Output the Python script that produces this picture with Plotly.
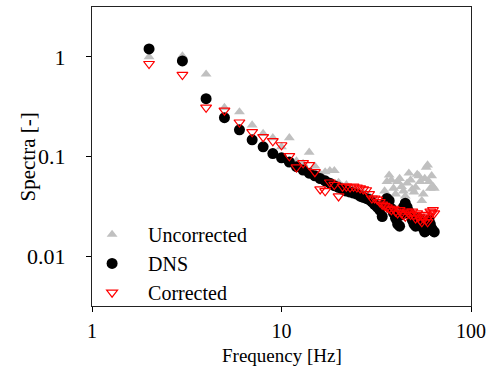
import plotly.graph_objects as go

freq = list(range(2, 65))

uncorrected = [1.0, 1.02, 0.67, 0.31, 0.28, 0.207, 0.17, 0.154, 0.125, 0.154,
               0.09, 0.085, 0.11, 0.08, 0.067, 0.07, 0.072, 0.072, 0.055, 0.05,
               0.052, 0.047, 0.046, 0.045, 0.043, 0.044, 0.042, 0.040, 0.038, 0.036,
               0.034, 0.030, 0.028, 0.045, 0.056, 0.065, 0.058, 0.048, 0.042, 0.056,
               0.060, 0.050, 0.045, 0.040, 0.054, 0.068, 0.058, 0.047, 0.044, 0.049,
               0.066, 0.064, 0.056, 0.036, 0.042, 0.060, 0.078, 0.082, 0.056, 0.048,
               0.064, 0.050, 0.048]

dns = [1.2, 0.91, 0.38, 0.245, 0.185, 0.147, 0.125, 0.107, 0.097, 0.088,
       0.079, 0.073, 0.068, 0.064, 0.060, 0.057, 0.054, 0.051, 0.049, 0.047,
       0.045, 0.044, 0.043, 0.042, 0.040, 0.039, 0.038, 0.037, 0.035, 0.033,
       0.031, 0.029, 0.025, 0.033, 0.038, 0.036, 0.030, 0.027, 0.024, 0.021,
       0.020, 0.026, 0.031, 0.034, 0.031, 0.028, 0.026, 0.023, 0.021, 0.020,
       0.022, 0.024, 0.022, 0.020, 0.019, 0.0175, 0.018, 0.021, 0.023, 0.021,
       0.019, 0.018, 0.0175]

corrected = [0.85, 0.66, 0.31, 0.29, 0.22, 0.176, 0.157, 0.143, 0.13, 0.101,
             0.078, 0.086, 0.082, 0.07, 0.047, 0.045, 0.055, 0.052, 0.040, 0.05,
             0.05, 0.049, 0.05, 0.049, 0.048, 0.047, 0.046, 0.042, 0.038, 0.038,
             0.037, 0.035, 0.033, 0.032, 0.031, 0.030, 0.029, 0.030, 0.028, 0.027,
             0.029, 0.027, 0.026, 0.025, 0.028, 0.027, 0.026, 0.028, 0.026, 0.024,
             0.027, 0.025, 0.023, 0.022, 0.024, 0.026, 0.023, 0.022, 0.025, 0.028,
             0.027, 0.029, 0.027]

x_ticks = [1, 10, 100]
x_tick_text = ["1", "10", "100"]
y_ticks = [0.01, 0.1, 1]
y_tick_text = ["0.01", "0.1", "1"]
x_title = "Frequency [Hz]"
y_title = "Spectra [-]"

FONT = "Liberation Serif, Times New Roman, serif"

fig = go.Figure()
fig.add_trace(go.Scatter(x=freq, y=uncorrected, mode="markers", name="Uncorrected",
                         marker=dict(symbol="triangle-up", size=9.5, color="#c0c0c0",
                                     line=dict(width=0))))
fig.add_trace(go.Scatter(x=freq, y=dns, mode="markers", name="DNS",
                         marker=dict(symbol="circle", size=11, color="black",
                                     line=dict(width=0))))
fig.add_trace(go.Scatter(x=freq, y=corrected, mode="markers", name="Corrected",
                         marker=dict(symbol="triangle-down-open", size=9.5, color="red",
                                     line=dict(width=1.2, color="red"))))

fig.update_layout(
    width=497, height=367,
    margin=dict(l=92, r=26, t=7, b=61, autoexpand=False),
    paper_bgcolor="white", plot_bgcolor="white",
    font=dict(family=FONT, size=20, color="black"),
    showlegend=True,
    legend=dict(x=-0.042, y=-0.02, xanchor="left", yanchor="bottom",
                bgcolor="rgba(0,0,0,0)", font=dict(family=FONT, size=20),
                itemwidth=62, tracegroupgap=0),
    xaxis=dict(type="log", range=[0, 2], tickvals=x_ticks, ticktext=x_tick_text,
               ticks="outside", ticklen=5, tickcolor="black", showgrid=False,
               showline=True, linecolor="#222222", linewidth=1, mirror=True,
               zeroline=False, tickfont=dict(size=20), ticklabelstandoff=2,
               automargin=False),
    yaxis=dict(type="log", range=[-2.5, 0.5], tickvals=y_ticks, ticktext=y_tick_text,
               ticks="outside", ticklen=5, tickcolor="black", showgrid=False,
               showline=True, linecolor="#222222", linewidth=1, mirror=True,
               zeroline=False, tickfont=dict(size=22), ticklabelstandoff=16,
               automargin=False),
    annotations=[
        dict(text=x_title, xref="paper", yref="paper", x=0.5, y=-0.164,
             xanchor="center", yanchor="middle", showarrow=False, borderpad=0,
             font=dict(family=FONT, size=19)),
        dict(text=y_title, xref="paper", yref="paper", x=-0.169, y=0.5,
             xanchor="center", yanchor="middle", showarrow=False, textangle=-90,
             font=dict(family=FONT, size=21)),
    ],
)

fig.write_html("out.html", config={"displayModeBar": False},
               post_script="document.body.style.margin='0';")
